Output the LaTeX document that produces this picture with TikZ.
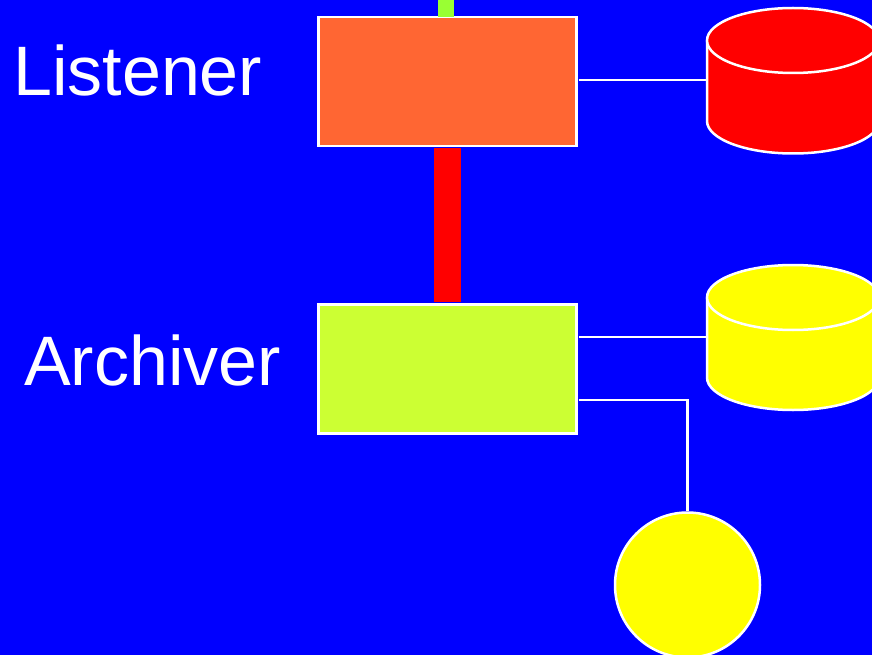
\documentclass[tikz,border=0pt]{standalone}
\usepackage{fontspec}
\setmainfont{Liberation Sans}
\definecolor{bgblue}{HTML}{0000FF}
\definecolor{listenfill}{HTML}{FF6633}
\definecolor{archfill}{HTML}{CCFF33}
\definecolor{feedgreen}{HTML}{99FF33}
\definecolor{linkred}{HTML}{FF0000}
\definecolor{dbred}{HTML}{FF0000}
\definecolor{dbyellow}{HTML}{FFFF00}
\tikzset{
  wire/.style={draw=white, line width=2.5pt},
  stage/.style={rectangle, draw=white, line width=2.5pt, minimum width=258pt,
    minimum height=129pt, inner sep=0pt},
  caption/.style={text=white, inner sep=0pt, anchor=base west,
    font=\fontsize{70}{74}\selectfont},
}
% storage drum: #1 centre x, #2 top-ellipse y, #3 bottom-ellipse y, #4 colour, #5 name of its left side
\newcommand\dbdrum[5]{%
  \fill[#4] (#1-86,#2) rectangle (#1+86,#3);
  \fill[#4] (#1,#3) ellipse[x radius=86pt, y radius=32.5pt];
  \draw[wire] (#1-86,#2) -- (#1-86,#3)
    arc[start angle=180, end angle=360, x radius=86pt, y radius=32.5pt] -- (#1+86,#2);
  \draw[wire, fill=#4] (#1,#2) ellipse[x radius=86pt, y radius=32.5pt];
  \coordinate (#5) at (#1-86,{(#2+#3)/2});
}
\begin{document}
\begin{tikzpicture}[x=1pt, y=-1pt]
  \fill[bgblue] (0,0) rectangle (872,655);
  \useasboundingbox (0,0) rectangle (872,655);
  \clip (0,0) rectangle (872,655);

  % processing stages
  \node[stage, fill=listenfill] (listen) at (447.5,81.5) {};
  \node[stage, fill=archfill] (arch) at (447.5,369) {};

  % incoming feed and link between stages
  \coordinate (feedtop) at (446,0);
  \fill[feedgreen] ([xshift=-8pt]feedtop) rectangle ([xshift=8pt, yshift=-1.2pt]listen.north -| feedtop);
  \fill[linkred] ([xshift=-13.5pt, yshift=-1.2pt]listen.south) rectangle ([xshift=13.5pt, yshift=1.2pt]arch.north);

  % labels
  \node[caption] (lbl1) at (13,96) {Listener};
  \node[caption] (lbl2) at (24,385) {Archiver};

  % storage
  \dbdrum{793}{40.5}{121}{dbred}{dbA}
  \dbdrum{793}{297.5}{377.5}{dbyellow}{dbB}

  % output disk
  \node[circle, draw=white, line width=2.5pt, fill=dbyellow, minimum size=145pt, inner sep=0pt] (disk) at (687.5,585) {};

  % connectors
  \draw[wire] ([xshift=1.2pt, yshift=1.5pt]listen.east) -- (dbA |- 0,80);
  \draw[wire] ([xshift=1.2pt, yshift=32pt]arch.east) -- (dbB |- 0,337);
  \draw[wire] ([xshift=1.2pt, yshift=-31pt]arch.east) -| (disk.north);
\end{tikzpicture}
\end{document}
